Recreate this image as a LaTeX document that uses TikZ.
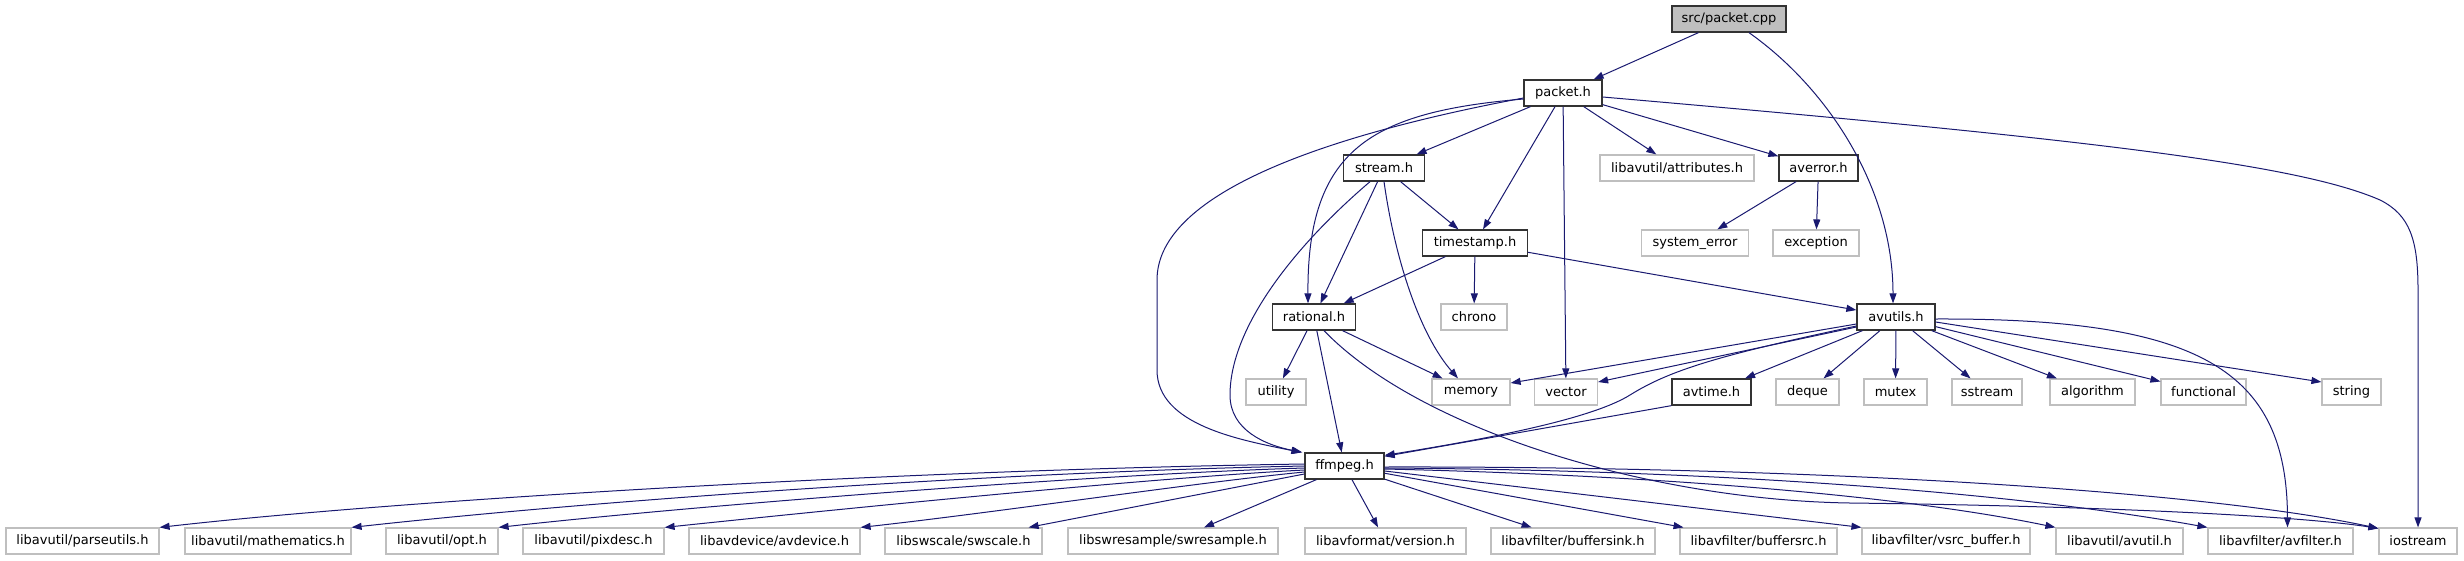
\documentclass[tikz,border=0pt]{standalone}
\usepackage{fontspec}
\setmainfont{DejaVu Sans}
\usetikzlibrary{arrows.meta}
\definecolor{edgec}{HTML}{191970}
\definecolor{extc}{HTML}{BFBFBF}
\definecolor{intc}{HTML}{333333}
\tikzset{
  box/.style={rectangle, minimum height=26pt, inner sep=0pt, font=\fontsize{13pt}{15pt}\selectfont, fill=white},
  intn/.style={box, draw=intc, line width=1.3pt},
  extn/.style={box, draw=extc, line width=1.2pt},
  rootn/.style={box, draw=intc, line width=1.3pt, fill=extc},
  edge/.style={draw=edgec, line width=1pt, -{Triangle[length=10pt,width=7pt]}, fill=none},
}
\begin{document}
\begin{tikzpicture}[x=1pt,y=-1pt]
\useasboundingbox (0,0) rectangle (2464,560);
% row 0
\node[rootn, minimum width=114pt] (cpp) at (1729,19) {src/packet.cpp};
% row 1
\node[intn, minimum width=78pt] (packet) at (1563,93) {packet.h};
% row 2
\node[intn, minimum width=81pt] (stream) at (1384,168) {stream.h};
\node[extn, minimum width=154pt] (attr) at (1677,168) {libavutil/attributes.h};
\node[intn, minimum width=79pt] (averror) at (1818.5,168) {averror.h};
% row 3
\node[intn, minimum width=105pt] (timestamp) at (1475,243) {timestamp.h};
\node[extn, minimum width=107pt] (syserr) at (1695,243) {system\_error};
\node[extn, minimum width=86pt] (exception) at (1816,243) {exception};
% row 4
\node[intn, minimum width=83pt] (rational) at (1314,317) {rational.h};
\node[extn, minimum width=66pt] (chrono) at (1474,317) {chrono};
\node[intn, minimum width=78pt] (avutils) at (1896,317) {avutils.h};
% row 5
\node[extn, minimum width=60pt] (utility) at (1276,392) {utility};
\node[extn, minimum width=78pt] (memory) at (1471,392) {memory};
\node[extn, minimum width=63pt] (vector) at (1566,392) {vector};
\node[intn, minimum width=79pt] (avtime) at (1711.5,392) {avtime.h};
\node[extn, minimum width=63pt] (deque) at (1807.5,392) {deque};
\node[extn, minimum width=63pt] (mutex) at (1895.5,392) {mutex};
\node[extn, minimum width=70pt] (sstream) at (1987,392) {sstream};
\node[extn, minimum width=85pt] (algorithm) at (2092.5,392) {algorithm};
\node[extn, minimum width=85pt] (functional) at (2203.5,392) {functional};
\node[extn, minimum width=59pt] (string) at (2351.5,392) {string};
% row 6
\node[intn, minimum width=79pt] (ffmpeg) at (1344.5,466) {ffmpeg.h};
% row 7
\node[extn, minimum width=153pt] (parseutils) at (82.5,541) {libavutil/parseutils.h};
\node[extn, minimum width=166pt] (mathematics) at (268,541) {libavutil/mathematics.h};
\node[extn, minimum width=112pt] (opt) at (442,541) {libavutil/opt.h};
\node[extn, minimum width=141pt] (pixdesc) at (593.5,541) {libavutil/pixdesc.h};
\node[extn, minimum width=171pt] (avdevice) at (774.5,541) {libavdevice/avdevice.h};
\node[extn, minimum width=157pt] (swscale) at (963.5,541) {libswscale/swscale.h};
\node[extn, minimum width=210pt] (swresample) at (1173,541) {libswresample/swresample.h};
\node[extn, minimum width=161pt] (version) at (1385.5,541) {libavformat/version.h};
\node[extn, minimum width=164pt] (buffersink) at (1573,541) {libavfilter/buffersink.h};
\node[extn, minimum width=157pt] (buffersrc) at (1758.5,541) {libavfilter/buffersrc.h};
\node[extn, minimum width=168pt] (vsrc) at (1946,541) {libavfilter/vsrc\_buffer.h};
\node[extn, minimum width=127pt] (avutilh) at (2119.5,541) {libavutil/avutil.h};
\node[extn, minimum width=145pt] (avfilter) at (2280.5,541) {libavfilter/avfilter.h};
\node[extn, minimum width=78pt] (iostream) at (2418,541) {iostream};

% edges from src/packet.cpp
\draw[edge] (cpp) -- (packet);
\draw[edge] ([xshift=20pt]cpp.south) .. controls (1830,90) and (1893,190) .. ([xshift=-3pt]avutils.north);
% edges from packet.h
\draw[edge] (packet) -- (stream);
\draw[edge] (packet) -- (attr);
\draw[edge] (packet) -- (averror);
\draw[edge] (packet) -- (timestamp);
\draw[edge] (packet) -- (vector);
\draw[edge] ([yshift=-6pt]packet.west) .. controls (1370,112) and (1307,150) .. ([xshift=-6pt]rational.north);
\draw[edge] ([yshift=-5pt]packet.west) .. controls (1300,140) and (1157,200) .. (1157,280) -- (1157,370) .. controls (1157,425) and (1240,440) .. ([xshift=-3pt]ffmpeg.north west);
\draw[edge] ([yshift=-4pt]packet.east) .. controls (2100,140) and (2300,165) .. (2380,200) .. controls (2410,215) and (2418,240) .. (2418,290) -- (iostream.north);
% edges from stream.h
\draw[edge] ([xshift=-14pt]stream.south) .. controls (1290,250) and (1230,330) .. (1230,395) .. controls (1230,430) and (1265,445) .. ([xshift=-2pt]ffmpeg.north west);
\draw[edge] (stream) -- (rational);
\draw[edge] (stream.south) .. controls (1395,260) and (1420,335) .. ([xshift=-13pt]memory.north);
\draw[edge] (stream) -- (timestamp);
% edges from timestamp.h
\draw[edge] (timestamp) -- (rational);
\draw[edge] (timestamp) -- (chrono);
\draw[edge] (timestamp) -- (avutils);
% edges from rational.h
\draw[edge] (rational) -- (utility);
\draw[edge] (rational) -- (memory);
\draw[edge] (rational) -- (ffmpeg);
\draw[edge] ([xshift=10pt]rational.south) .. controls (1420,430) and (1650,500) .. (1850,503) .. controls (2100,506) and (2300,516) .. ([yshift=-1pt]iostream.north west);
% edges from averror.h
\draw[edge] (averror) -- (syserr);
\draw[edge] (averror) -- (exception);
% edges from avutils.h
\draw[edge] ([yshift=-7pt]avutils.west) -- ([yshift=9pt]memory.east);
\draw[edge] ([yshift=-10pt]avutils.west) -- ([yshift=10pt]vector.east);
\draw[edge] ([yshift=-9pt]avutils.west) .. controls (1720,355) and (1670,370) .. (1630,395) .. controls (1590,420) and (1480,440) .. ([yshift=-3pt]ffmpeg.north east);
\draw[edge] (avutils) -- (avtime);
\draw[edge] (avutils) -- (deque);
\draw[edge] (avutils) -- (mutex);
\draw[edge] (avutils) -- (sstream);
\draw[edge] (avutils) -- (algorithm);
\draw[edge] (avutils) -- (functional);
\draw[edge] ([yshift=-5pt]avutils.east) -- ([yshift=10pt]string.west);
\draw[edge] ([yshift=-2pt]avutils.east) .. controls (2200,318) and (2287,370) .. ([xshift=7pt]avfilter.north);
% edge from avtime.h
\draw[edge] (avtime.south west) -- ([yshift=-4pt]ffmpeg.north east);
% edges from ffmpeg.h
\draw[edge] ([yshift=2pt]ffmpeg.west) .. controls (900,470) and (400,500) .. (parseutils.north east);
\draw[edge] ([yshift=0pt]ffmpeg.west) .. controls (1000,472) and (600,500) .. (mathematics.north east);
\draw[edge] ([yshift=-2pt]ffmpeg.west) .. controls (1100,474) and (700,505) .. (opt.north east);
\draw[edge] ([yshift=-4pt]ffmpeg.west) .. controls (1150,478) and (850,508) .. (pixdesc.north east);
\draw[edge] ([yshift=-6pt]ffmpeg.west) .. controls (1200,482) and (1000,512) .. (avdevice.north east);
\draw[edge] ([yshift=-8pt]ffmpeg.west) -- ([xshift=-14pt]swscale.north east);
\draw[edge] ([xshift=12pt]ffmpeg.south west) -- ([xshift=31pt]swresample.north);
\draw[edge] (ffmpeg) -- (version);
\draw[edge] (ffmpeg) -- (buffersink);
\draw[edge] (ffmpeg) -- (buffersrc);
\draw[edge] ([yshift=-5pt]ffmpeg.east) -- (vsrc.north west);
\draw[edge] ([yshift=-3pt]ffmpeg.east) .. controls (1650,475) and (1900,495) .. (avutilh.north west);
\draw[edge] ([yshift=-2pt]ffmpeg.east) .. controls (1700,470) and (2000,490) .. (avfilter.north west);
\draw[edge] ([yshift=-1pt]ffmpeg.east) .. controls (1800,466) and (2200,490) .. ([yshift=-1pt]iostream.north west);
\end{tikzpicture}
\end{document}
